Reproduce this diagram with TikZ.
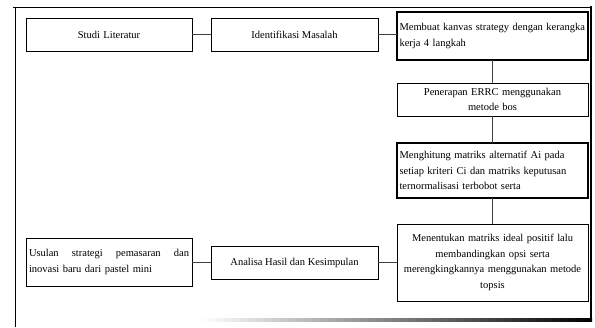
\documentclass[tikz,border=0pt]{standalone}
\usepackage{fontspec}
\setmainfont{Liberation Serif}
\begin{document}
\begin{tikzpicture}[x=1pt,y=1pt,
  base/.style={draw=black, line width=0.7pt, inner sep=2pt, outer sep=0pt,
    font=\fontsize{10.5}{15.5}\selectfont},
  lbox/.style={base, minimum width=166pt, text width=160pt},
  mbox/.style={base, minimum width=167pt, align=center},
  rbox/.style={base, minimum width=191pt, text width=186pt},
  thickbox/.style={line width=1.3pt},
  link/.style={draw=black!75, line width=1pt}]
\useasboundingbox (0,0) rectangle (595,327);
% outer frame
\draw[line width=0.9pt] (13,320) -- (592,320);
\draw[line width=0.9pt] (15,320) -- (15,0);
\draw[line width=1.6pt] (591,320.5) -- (591,6);
\shade[left color=white, right color=black] (200,5.5) rectangle (592,8.5);
% boxes
\node[lbox, align=center, minimum height=33pt] (studi) at (109,292.5) {Studi Literatur};
\node[mbox, minimum height=33pt] (ident) at (294.5,292.5) {Identifikasi Masalah};
\node[rbox, thickbox, align=left, minimum height=48pt] (kanvas) at (492.5,291)
  {Membuat kanvas strategy dengan kerangka\\kerja 4 langkah};
\node[rbox, align=center, minimum height=33pt] (errc) at (492.5,227.5)
  {Penerapan ERRC menggunakan\\metode bos};
\node[rbox, thickbox, align=left, minimum height=55pt] (hitung) at (492.5,156.5)
  {Menghitung matriks alternatif Ai pada\\setiap kriteri Ci dan matriks keputusan\\ternormalisasi terbobot serta};
\node[rbox, align=center, minimum height=77pt] (topsis) at (492.5,64.5)
  {Menentukan matriks ideal positif lalu\\membandingkan opsi serta\\merengkingkannya menggunakan metode\\topsis};
\node[mbox, minimum height=33pt] (analisa) at (294.5,64.5) {Analisa Hasil dan Kesimpulan};
\node[lbox, align=left, minimum height=48pt] (usulan) at (109,65)
  {\hbox to 160pt{Usulan\hfill strategi\hfill pemasaran\hfill dan}\\inovasi baru dari pastel mini};
% connectors
\draw[link] (studi.east) -- (ident.west);
\draw[link] (ident.east) -- (ident.east -| kanvas.west);
\draw[link] (kanvas.south) -- (errc.north);
\draw[link] (errc.south) -- (hitung.north);
\draw[link] (hitung.south) -- (topsis.north);
\draw[link] (analisa.east) -- (analisa.east -| topsis.west);
\draw[link] (usulan.east) -- (usulan.east |- analisa.west) -- (analisa.west);
\end{tikzpicture}
\end{document}
